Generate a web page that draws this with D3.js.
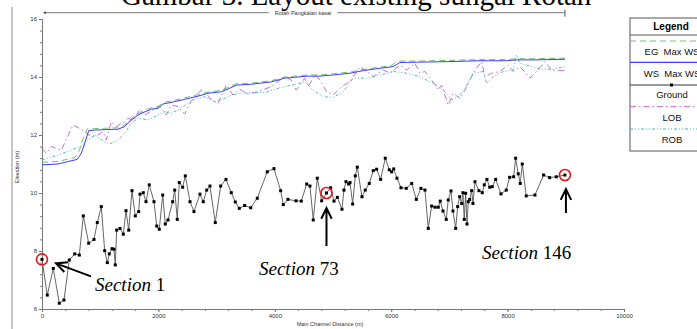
<!DOCTYPE html>
<html>
<head>
<meta charset="utf-8">
<script src="https://cdn.jsdelivr.net/npm/d3@7"></script>
<style>
  html, body { margin: 0; padding: 0; background: #fff; overflow: hidden; }
  svg { display: block; }
</style>
</head>
<body>
<svg id="chart" width="697" height="329"></svg>
<script>
// ---- Ground profile: station (m) and bed elevation (m) ----
const groundStation = [0,91,194,297,378,469,562,641,710,802,893,950,1019,1077,1122,1156,1203,1237,1259,1283,1340,1397,1443,1490,1546,1603,1661,1684,1740,1787,1843,1924,1971,2015,2074,2118,2165,2245,2280,2324,2359,2417,2462,2543,2611,2714,2771,2830,2886,2977,3070,3161,3252,3321,3390,3482,3586,3699,3871,3986,4101,4146,4226,4364,4455,4548,4604,4661,4730,4805,4888,4960,5017,5074,5154,5188,5223,5269,5292,5338,5383,5417,5498,5554,5623,5692,5750,5819,5898,5967,6008,6043,6099,6168,6259,6352,6431,6511,6580,6637,6695,6752,6809,6843,6890,6946,6980,7027,7061,7108,7142,7176,7211,7233,7255,7279,7302,7324,7348,7382,7405,7439,7508,7565,7599,7645,7692,7736,7795,7886,7977,8035,8104,8138,8183,8217,8252,8320,8470,8619,8722,8836,8985];
const groundElev = [7.71,6.48,7.40,6.20,6.31,7.69,7.90,7.86,9.21,8.27,8.40,8.98,9.53,8.01,7.60,7.90,8.08,8.06,7.52,8.72,8.78,8.58,9.39,8.72,10.08,9.21,9.36,9.96,10.01,9.70,10.28,9.70,8.86,8.75,9.93,8.93,9.07,9.70,10.10,9.09,10.36,10.20,10.59,9.70,9.36,9.96,9.70,10.10,10.24,8.98,10.24,10.47,10.01,9.69,9.47,9.57,9.49,9.82,10.73,10.84,10.08,9.60,9.78,9.73,9.72,10.31,10.24,9.07,10.51,9.73,10.00,10.18,9.72,9.85,9.44,10.10,10.39,10.31,10.36,9.62,10.59,10.89,9.87,10.10,10.33,10.77,10.82,10.47,11.20,10.80,10.73,10.83,10.51,10.18,10.16,10.33,9.78,10.16,10.10,8.78,9.55,9.51,9.51,9.72,9.38,9.09,9.76,10.07,9.38,8.78,9.53,9.87,9.64,10.01,9.09,9.99,8.93,9.70,9.78,10.08,9.64,10.39,10.08,10.01,10.28,10.47,10.20,10.22,10.47,9.97,10.10,10.54,10.56,11.20,10.66,10.33,11.00,9.90,9.93,10.62,10.53,10.56,10.62];

// ---- Water surface (WS Max WS) ----
const wsStation = [0,275,606,675,734,802,905,1306,1421,1477,1649,1735,1878,1993,2079,2280,2452,2680,2852,3080,3225,3338,3596,3939,4170,4341,4570,4776,5005,5291,5520,5807,6035,6150,6437,6953,7525,7983,8155,8441,8985];
const wsElev = [10.97,11.00,11.16,11.37,11.71,12.15,12.17,12.20,12.29,12.42,12.69,12.77,12.89,12.92,13.07,13.15,13.23,13.34,13.44,13.49,13.61,13.72,13.75,13.83,13.96,13.99,14.03,14.03,14.07,14.13,14.22,14.30,14.36,14.50,14.51,14.53,14.56,14.56,14.59,14.59,14.61];

// ---- Energy grade (EG Max WS) ----
const egStation = [0,275,560,640,700,780,905,1306,1421,1477,1649,1735,1878,1993,2079,2280,2452,2680,2852,3080,3225,3338,3596,3939,4170,4341,4570,4776,5005,5291,5520,5807,6000,6120,6437,6953,7525,7983,8155,8441,8985];
const egElev = [11.06,11.09,11.22,11.45,11.85,12.22,12.22,12.25,12.34,12.47,12.74,12.83,12.94,12.98,13.12,13.20,13.28,13.39,13.48,13.54,13.66,13.77,13.79,13.87,14.00,14.03,14.07,14.07,14.11,14.17,14.26,14.34,14.40,14.55,14.55,14.57,14.60,14.60,14.63,14.63,14.65];

// ---- Left overbank (LOB) ----
const lobStation = [0,74,160,332,533,675,847,962,1048,1105,1191,1276,1421,1477,1563,1678,1764,1907,2022,2135,2221,2336,2452,2565,2737,2823,2909,3024,3166,3281,3397,3539,3711,3939,4170,4283,4369,4513,4575,4690,4776,4891,5005,5149,5291,5463,5578,5692,5864,5979,6150,6266,6408,6494,6580,6695,6808,6867,6980,7066,7181,7267,7353,7439,7554,7611,7726,7868,8011,8097,8212,8384,8470,8642,8757,8985];
const lobElev = [11.54,11.37,11.60,11.48,12.34,12.20,11.94,12.00,12.11,11.83,12.46,12.29,12.46,12.58,12.50,12.86,12.69,12.86,13.00,12.69,13.03,12.98,12.72,13.18,13.55,13.44,13.21,13.09,13.72,13.38,13.58,13.41,13.49,13.67,14.01,13.90,13.55,13.96,13.67,14.07,13.90,13.49,13.38,13.67,13.84,14.36,14.19,14.01,14.24,14.13,14.41,14.24,14.47,14.13,14.19,13.90,13.55,13.72,13.03,13.44,13.26,13.55,13.90,14.24,14.53,14.01,14.13,14.19,14.41,14.19,14.36,13.96,14.13,14.53,14.24,14.22];

// ---- Right overbank (ROB) ----
const robStation = [0,275,503,675,790,905,1077,1163,1306,1421,1534,1649,1821,1993,2108,2221,2336,2508,2623,2795,2967,3139,3252,3424,3596,3826,4054,4283,4513,4661,4833,5005,5176,5348,5578,5807,6035,6266,6494,6723,6894,7039,7152,7267,7410,7582,7640,7753,7925,8097,8155,8212,8384,8556,8784,8985];
const robElev = [11.14,11.31,11.48,11.62,11.83,12.00,11.77,11.69,11.83,12.06,12.40,12.58,12.52,12.69,12.80,12.75,12.86,13.09,13.23,13.32,13.15,13.26,13.38,13.44,13.46,13.46,13.61,13.72,13.84,13.55,13.32,13.30,13.49,13.96,13.96,14.07,14.19,14.13,14.01,13.78,13.55,13.21,13.32,13.61,14.13,14.19,13.78,14.01,14.19,14.24,14.76,14.47,14.38,14.27,14.27,14.36];

// ---- Axis ticks and labels ----
const xMajorTicks = [0, 2000, 4000, 6000, 8000, 10000];
const yMajorTicks = [6, 8, 10, 12, 14, 16];
const xMinorStep = 400;
const yMinorStep = 0.4;

// Highlighted cross sections
const sectionNames = ["Section 1", "Section 73", "Section 146"];
const sectionStations = [0, 4888, 8985];

const titleText = "Gambar 3. Layout existing sungai Rotan";
const reachName = "Rotah Pangkalan kasai";
const xAxisTitle = "Main Channel Distance (m)";
const yAxisTitle = "Elevation (m)";
const legendLabels = ["EG  Max WS", "WS  Max WS", "Ground", "LOB", "ROB"];

// ---- Drawing ----
const svg = d3.select("#chart");
const x = d3.scaleLinear().domain([0, 10000]).range([42, 624]);
const y = d3.scaleLinear().domain([6, 16]).range([309, 19]);

const colors = {
  eg: "#6cc46c",
  ws: "#3d3dff",
  ground: "#555",
  lob: "#c060c8",
  rob: "#40b4b4"
};
const dashes = {
  eg: "6,4",
  ws: null,
  lob: "6,3,1.5,3",
  rob: "3,2,1,2,1,2"
};

// Title (partly above the page top)
svg.append("text")
  .attr("x", 121).attr("y", 4.5)
  .attr("font-family", "Liberation Serif, Times New Roman, serif")
  .attr("font-size", 29)
  .attr("fill", "#000")
  .text(titleText);

// Outer frame line on the left
svg.append("line")
  .attr("x1", 12).attr("x2", 12).attr("y1", 7).attr("y2", 329)
  .attr("stroke", "#8a8a8a").attr("stroke-width", 1);

// Reach bracket at top
const bracketY = 12.7;
const reach = svg.append("g");
const reachText = reach.append("text")
  .attr("x", 303).attr("y", bracketY + 2)
  .attr("text-anchor", "middle")
  .attr("font-family", "Arial, Liberation Sans, sans-serif")
  .attr("font-size", 5.5)
  .attr("fill", "#333")
  .text(reachName);
const tw = reachText.node().getComputedTextLength();
reach.append("line")
  .attr("x1", x(0) + 2).attr("x2", 303 - tw / 2 - 6)
  .attr("y1", bracketY).attr("y2", bracketY)
  .attr("stroke", "#777").attr("stroke-width", 1);
reach.append("line")
  .attr("x1", 303 + tw / 2 + 6).attr("x2", x(d3.max(groundStation)))
  .attr("y1", bracketY).attr("y2", bracketY)
  .attr("stroke", "#777").attr("stroke-width", 1);
reach.append("path")
  .attr("d", `M${x(0) + 1},${bracketY} l3,-1.5 l0,3 z`)
  .attr("fill", "#555");
reach.append("line")
  .attr("x1", x(d3.max(groundStation))).attr("x2", x(d3.max(groundStation)))
  .attr("y1", bracketY - 3).attr("y2", bracketY + 4)
  .attr("stroke", "#555").attr("stroke-width", 1);

// Axes
function styleAxis(g) {
  g.selectAll(".domain").attr("stroke", "#777");
  g.selectAll(".tick line").attr("stroke", "#777");
  g.selectAll(".tick text")
    .attr("font-family", "Arial, Liberation Sans, sans-serif")
    .attr("font-size", 6).attr("fill", "#333");
}
const xMinor = d3.range(0, 10000 + 1, xMinorStep);
const yMinor = d3.range(6, 16.001, yMinorStep).map(v => +v.toFixed(2));

svg.append("g")
  .attr("transform", `translate(0,${y(6)})`)
  .call(d3.axisBottom(x).tickValues(xMinor).tickSize(2).tickFormat(""))
  .call(styleAxis);
svg.append("g")
  .attr("transform", `translate(0,${y(6)})`)
  .call(d3.axisBottom(x).tickValues(xMajorTicks).tickSize(3).tickPadding(2).tickFormat(d3.format("d")))
  .call(styleAxis);
svg.append("g")
  .attr("transform", `translate(${x(0)},0)`)
  .call(d3.axisLeft(y).tickValues(yMinor).tickSize(2).tickFormat(""))
  .call(styleAxis);
svg.append("g")
  .attr("transform", `translate(${x(0)},0)`)
  .call(d3.axisLeft(y).tickValues(yMajorTicks).tickSize(3).tickPadding(2).tickFormat(d3.format("d")))
  .call(styleAxis);

svg.append("text")
  .attr("x", 330).attr("y", 326)
  .attr("text-anchor", "middle")
  .attr("font-family", "Arial, Liberation Sans, sans-serif")
  .attr("font-size", 5.5).attr("fill", "#333")
  .text(xAxisTitle);
svg.append("text")
  .attr("transform", `translate(19,${(y(6) + y(16)) / 2 + 3}) rotate(-90)`)
  .attr("text-anchor", "middle")
  .attr("font-family", "Arial, Liberation Sans, sans-serif")
  .attr("font-size", 5.5).attr("fill", "#333")
  .text(yAxisTitle);

// Profile lines
const line = d3.line().x(d => x(d[0])).y(d => y(d[1]));
function drawSeries(st, el, key, width) {
  svg.append("path")
    .datum(d3.zip(st, el))
    .attr("d", line)
    .attr("fill", "none")
    .attr("stroke", colors[key])
    .attr("stroke-width", width)
    .attr("stroke-dasharray", dashes[key]);
}
drawSeries(lobStation, lobElev, "lob", 0.9);
drawSeries(robStation, robElev, "rob", 0.9);
drawSeries(egStation, egElev, "eg", 1);
drawSeries(wsStation, wsElev, "ws", 1);

// Ground
const groundData = d3.zip(groundStation, groundElev);
svg.append("path")
  .datum(groundData)
  .attr("d", line)
  .attr("fill", "none")
  .attr("stroke", colors.ground)
  .attr("stroke-width", 0.9);
svg.append("g").selectAll("rect")
  .data(groundData)
  .join("rect")
  .attr("x", d => x(d[0]) - 1.5)
  .attr("y", d => y(d[1]) - 1.5)
  .attr("width", 3).attr("height", 3)
  .attr("fill", "#000");

// Highlighted sections: circles, arrows and labels
const sectionPts = sectionStations.map(s => {
  const i = groundStation.indexOf(s);
  return [x(s), y(groundElev[i])];
});
svg.append("g").selectAll("circle")
  .data(sectionPts)
  .join("circle")
  .attr("cx", d => d[0]).attr("cy", d => d[1])
  .attr("r", 5.5)
  .attr("fill", "none")
  .attr("stroke", "#e8141c")
  .attr("stroke-width", 1.6);

function arrow(x1, y1, x2, y2) {
  // shaft from (x1,y1) to tip (x2,y2), open head
  const a = Math.atan2(y2 - y1, x2 - x1);
  const L = 12, s = 0.45;
  const h1 = [x2 - L * Math.cos(a - s), y2 - L * Math.sin(a - s)];
  const h2 = [x2 - L * Math.cos(a + s), y2 - L * Math.sin(a + s)];
  svg.append("path")
    .attr("d", `M${x1},${y1}L${x2},${y2}M${h1[0]},${h1[1]}L${x2},${y2}L${h2[0]},${h2[1]}`)
    .attr("fill", "none").attr("stroke", "#000")
    .attr("stroke-width", 2).attr("stroke-linejoin", "miter");
}
arrow(sectionPts[0][0] + 49, sectionPts[0][1] + 17, sectionPts[0][0] + 14, sectionPts[0][1] + 4);
arrow(sectionPts[1][0], sectionPts[1][1] + 53, sectionPts[1][0], sectionPts[1][1] + 15);
arrow(sectionPts[2][0] + 1, sectionPts[2][1] + 38, sectionPts[2][0] + 1, sectionPts[2][1] + 14);

const labelPos = [[95, 291], [259, 275], [482, 259]];
sectionNames.forEach((name, i) => {
  const parts = name.split(" ");
  const t = svg.append("text")
    .attr("x", labelPos[i][0]).attr("y", labelPos[i][1])
    .attr("font-family", "Liberation Serif, Times New Roman, serif")
    .attr("font-size", 19).attr("fill", "#000");
  t.append("tspan").attr("font-style", "italic").text(parts[0]);
  t.append("tspan").text(" " + parts[1]);
});

// Legend
const lg = svg.append("g");
const lgX = 630, lgY = 18, lgW = 82, lgH = 133;
lg.append("rect")
  .attr("x", lgX).attr("y", lgY).attr("width", lgW).attr("height", lgH)
  .attr("fill", "#fff").attr("stroke", "#555").attr("stroke-width", 1);
lg.append("text")
  .attr("x", lgX + 41).attr("y", lgY + 12)
  .attr("text-anchor", "middle")
  .attr("font-family", "Arial, Liberation Sans, sans-serif")
  .attr("font-weight", "bold").attr("font-size", 10)
  .text("Legend");
lg.append("line")
  .attr("x1", lgX).attr("x2", lgX + lgW)
  .attr("y1", 35).attr("y2", 35)
  .attr("stroke", "#555").attr("stroke-width", 1);

const legendKeys = ["eg", "ws", "ground", "lob", "rob"];
const rowLineY = [41, 62.3, 85, 106.7, 129];
const rowTextY = [55.3, 76.8, 97.7, 120.8, 142.8];
legendKeys.forEach((k, i) => {
  lg.append("line")
    .attr("x1", lgX).attr("x2", lgX + lgW)
    .attr("y1", rowLineY[i]).attr("y2", rowLineY[i])
    .attr("stroke", k === "ground" ? "#333" : colors[k])
    .attr("stroke-width", k === "ws" ? 1.2 : 1)
    .attr("stroke-dasharray", dashes[k] || null);
  if (k === "ground") {
    lg.append("rect")
      .attr("x", lgX + 40).attr("y", rowLineY[i] - 1.5)
      .attr("width", 3).attr("height", 3).attr("fill", "#000");
  }
  lg.append("text")
    .attr("x", lgX + 42).attr("y", rowTextY[i])
    .attr("text-anchor", "middle")
    .attr("font-family", "Arial, Liberation Sans, sans-serif")
    .attr("font-size", 9.5).attr("fill", "#111")
    .attr("xml:space", "preserve")
    .style("white-space", "pre")
    .text(legendLabels[i]);
});
</script>
</body>
</html>
